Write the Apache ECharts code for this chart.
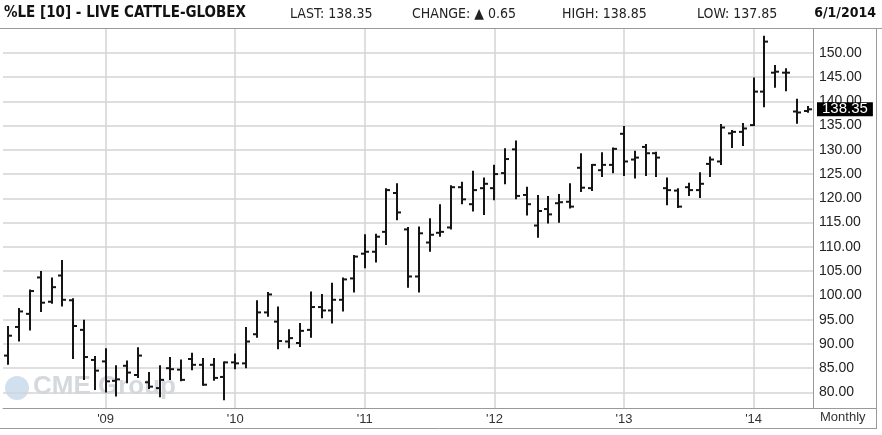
<!DOCTYPE html>
<html><head><meta charset="utf-8">
<script src="https://cdn.jsdelivr.net/npm/echarts@6/dist/echarts.min.js"></script>
<style>html,body{margin:0;padding:0;background:#fff}#c{width:882px;height:435px}</style>
</head><body><div id="c"></div>
<script>
const months = ["2008-04","2008-05","2008-06","2008-07","2008-08","2008-09","2008-10","2008-11","2008-12",
"2009-01","2009-02","2009-03","2009-04","2009-05","2009-06","2009-07","2009-08","2009-09","2009-10","2009-11","2009-12",
"2010-01","2010-02","2010-03","2010-04","2010-05","2010-06","2010-07","2010-08","2010-09","2010-10","2010-11","2010-12",
"2011-01","2011-02","2011-03","2011-04","2011-05","2011-06","2011-07","2011-08","2011-09","2011-10","2011-11","2011-12",
"2012-01","2012-02","2012-03","2012-04","2012-05","2012-06","2012-07","2012-08","2012-09","2012-10","2012-11","2012-12",
"2013-01","2013-02","2013-03","2013-04","2013-05","2013-06","2013-07","2013-08","2013-09","2013-10","2013-11","2013-12",
"2014-01","2014-02","2014-03","2014-04","2014-05","2014-06"];
const opens = [87.6,93.5,96.2,103.7,98.7,104.1,99.0,92.9,86.7,
86.4,82.4,85.5,83.6,82.1,80.9,85.0,84.7,86.9,85.7,85.7,83.2,
86.2,86.0,92.0,96.5,94.6,90.5,90.2,92.9,97.6,96.9,99.1,103.5,
108.6,109.0,113.1,121.1,113.6,103.9,110.9,112.9,114.0,122.3,118.8,122.1,
122.1,125.2,130.1,120.7,114.4,117.8,119.0,119.3,126.3,122.1,125.8,126.9,
133.3,128.0,130.6,129.3,122.1,121.6,122.3,121.7,127.1,127.6,133.4,133.7,
135.1,142.0,145.9,145.9,137.9,138.0];
const highs = [93.5,97.2,101.0,104.8,103.5,107.1,99.2,94.8,87.3,
88.9,85.4,86.4,89.1,84.0,85.4,87.1,86.6,88.0,86.9,86.9,86.2,
87.8,93.3,98.8,100.5,97.5,92.8,94.1,100.6,100.1,102.4,103.5,108.1,
112.4,112.5,121.9,122.9,113.9,114.0,115.7,118.6,122.5,123.2,125.5,124.1,
126.7,130.1,131.7,122.2,120.5,120.3,120.7,122.9,129.1,126.9,129.3,130.3,
134.7,129.6,131.0,129.4,124.1,121.9,123.0,125.2,128.4,135.1,133.9,135.3,
144.7,153.3,147.3,146.6,140.3,138.85];
const lows = [85.9,90.7,93.0,96.8,98.5,97.9,87.1,82.8,80.7,
80.2,79.4,82.1,83.2,80.9,79.2,82.8,82.5,84.8,81.6,82.6,78.6,
85.0,85.2,91.5,95.8,89.1,89.3,89.6,91.5,95.5,94.4,96.9,100.8,
105.8,107.0,110.6,115.7,101.8,100.8,109.2,112.3,113.8,119.0,117.5,116.8,
119.8,123.1,120.0,116.7,112.1,115.0,115.2,118.1,121.5,121.7,124.6,125.4,
124.8,124.3,124.8,124.6,118.8,118.2,120.7,120.3,124.6,127.1,130.6,131.0,
135.1,139.0,143.0,142.3,135.6,137.85];
const closes = [91.7,96.7,100.9,98.5,101.7,99.1,93.7,87.3,84.5,
82.3,82.7,84.1,87.6,81.2,82.6,84.8,82.6,85.7,81.6,83.0,86.2,
86.0,90.5,96.5,100.2,90.6,91.2,92.7,97.6,96.9,99.1,103.3,108.0,
109.0,112.1,121.7,117.1,103.9,112.8,112.5,113.1,122.3,119.8,121.7,123.0,
125.0,128.1,120.5,118.8,117.4,116.7,119.2,118.3,122.2,126.9,126.9,130.2,
127.6,128.4,129.3,128.4,121.7,118.3,121.7,123.0,128.0,134.6,133.7,134.4,
142.0,152.3,146.1,145.9,137.70,138.35];
const yTicks = [80,85,90,95,100,105,110,115,120,125,130,135,140,145,150];

const n = closes.length;
const lastClose = closes[n-1], prevClose = closes[n-2];
const lastHigh = highs[n-1], lastLow = lows[n-1];
const change = lastClose - prevClose;
const lastMonth = months[n-1].split('-');
const dateText = (+lastMonth[1]) + '/1/' + lastMonth[0];

const data = months.map((m,i)=>[i, opens[i], highs[i], lows[i], closes[i]]);
const isJan = (i, v) => String(v).endsWith('-01');

const NARROW = "'Liberation Sans Narrow','DejaVu Sans Condensed','Liberation Sans',Arial,sans-serif";
const SANS = "'Liberation Sans',Arial,sans-serif";
const chart = echarts.init(document.getElementById('c'), null, {renderer:'canvas'});
chart.setOption({
  animation:false,
  backgroundColor:'#fff',
  grid:{left:3, right:69, top:29, bottom:27},
  xAxis:{
    type:'category', data:months, boundaryGap:true,
    axisLine:{show:true, lineStyle:{color:'#9a9a9a', width:1}},
    axisTick:{show:false, interval:isJan, alignWithLabel:true},
    axisLabel:{interval:isJan, formatter:v=>"'"+v.slice(2,4), color:'#333', fontSize:13, margin:5, fontFamily:SANS},
    splitLine:{show:true, interval:isJan, alignWithLabel:true, lineStyle:{color:'#d4d4d4', width:1.5}}
  },
  yAxis:{
    type:'value', position:'right', min:76.8, max:154.9, scale:true,
    axisLine:{show:true, lineStyle:{color:'#9a9a9a', width:1}},
    axisTick:{show:false, customValues:yTicks},
    axisLabel:{customValues:yTicks, formatter:v=>v.toFixed(2), color:'#222', fontSize:14, margin:6, align:'left', fontFamily:SANS},
    splitLine:{show:true, lineStyle:{color:'#d4d4d4', width:1.5}}
  },
  graphic:[
    {type:'line', shape:{x1:0,y1:28.5,x2:882,y2:28.5}, style:{stroke:'#9a9a9a', lineWidth:1}, z:1},
    {type:'line', shape:{x1:813,y1:408.5,x2:877,y2:408.5}, style:{stroke:'#9a9a9a', lineWidth:1}, z:1},
    {type:'line', shape:{x1:0,y1:428.5,x2:877,y2:428.5}, style:{stroke:'#9a9a9a', lineWidth:1}, z:1},
    {type:'line', shape:{x1:876.5,y1:28,x2:876.5,y2:429}, style:{stroke:'#9a9a9a', lineWidth:1}, z:1},
    {type:'text', left:4, top:6, style:{text:'%LE [10] - LIVE CATTLE-GLOBEX', font:"bold 15px "+NARROW, fill:'#111'}},
    {type:'text', left:290, top:7, style:{text:'LAST: '+lastClose.toFixed(2), font:"14px "+NARROW, fill:'#222'}},
    {type:'text', left:412, top:7, style:{text:'CHANGE: '+(change>=0?'\u25B2 ':'\u25BC ')+Math.abs(change).toFixed(2), font:"14px "+NARROW, fill:'#222'}},
    {type:'text', left:562, top:7, style:{text:'HIGH: '+lastHigh.toFixed(2), font:"14px "+NARROW, fill:'#222'}},
    {type:'text', left:697, top:7, style:{text:'LOW: '+lastLow.toFixed(2), font:"14px "+NARROW, fill:'#222'}},
    {type:'text', right:6, top:6, style:{text:dateText, font:"bold 14px "+NARROW, fill:'#111'}},
    {type:'text', left:820, top:411, style:{text:'Monthly', font:"13px "+SANS, fill:'#333'}},
    {type:'circle', shape:{cx:17, cy:388, r:12}, style:{fill:'#d0e0ee'}, z:0},
    {type:'text', left:33, top:374, style:{text:'CME Group', font:"bold 26px "+SANS, fill:'#d5d9de'}, z:0}
  ],
  series:[{
    type:'custom', z:3,
    data:data,
    encode:{x:0, y:[1,2,3,4]},
    renderItem:function(params, api){
      const i = api.value(0);
      const pO = api.coord([i, api.value(1)]);
      const pH = api.coord([i, api.value(2)]);
      const pL = api.coord([i, api.value(3)]);
      const pC = api.coord([i, api.value(4)]);
      const x = Math.round(pO[0]);
      const st = {stroke:'#151515', lineWidth:2};
      return {type:'group', children:[
        {type:'line', shape:{x1:x, y1:pH[1]-1, x2:x, y2:pL[1]+1}, style:st},
        {type:'line', shape:{x1:x-4, y1:pO[1], x2:x, y2:pO[1]}, style:st},
        {type:'line', shape:{x1:x, y1:pC[1], x2:x+4, y2:pC[1]}, style:st}
      ]};
    },
    markLine:{
      silent:true, symbol:'none',
      lineStyle:{color:'rgba(0,0,0,0)', width:0},
      label:{show:true, position:'end', distance:4, formatter:lastClose.toFixed(2), color:'#fff', backgroundColor:'#000',
        fontSize:15, padding:[0,5,0,5], lineHeight:14, fontFamily:SANS},
      data:[{yAxis:lastClose}]
    }
  }]
});
</script></body></html>
